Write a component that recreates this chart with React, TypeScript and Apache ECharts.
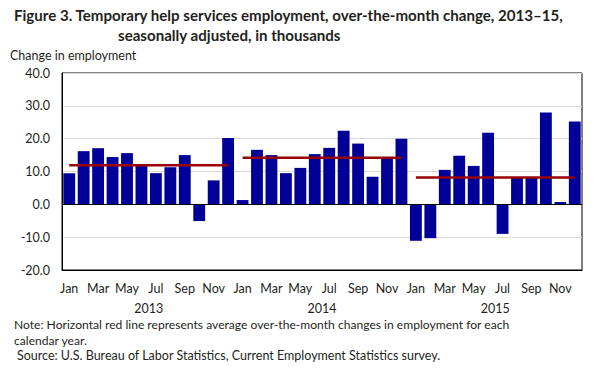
import React, { useEffect, useRef } from "react";
import * as echarts from "echarts";

const years = ["2013", "2014", "2015"];
const monthNames = ["Jan", "Feb", "Mar", "Apr", "May", "Jun", "Jul", "Aug", "Sep", "Oct", "Nov", "Dec"];
const values2013 = [9.5, 16.2, 17.1, 14.4, 15.6, 11.9, 9.5, 11.3, 15.0, -5.1, 7.3, 20.2];
const values2014 = [1.3, 16.6, 15.0, 9.5, 11.1, 15.3, 17.2, 22.4, 18.5, 8.4, 14.2, 20.0];
const values2015 = [-11.1, -10.3, 10.5, 14.8, 11.7, 21.8, -9.0, 8.1, 8.0, 28.0, 0.7, 25.2];
const yearAverages = [11.9, 14.2, 8.2];
const yTicks = { min: -20, max: 40, interval: 10 };

const FONT = "Lato";
const TEXT = "#231f20";

export default function App() {
  const ref = useRef<HTMLDivElement>(null);
  useEffect(() => {
    if (!ref.current) return;
    const chart = echarts.init(ref.current, null, { renderer: "svg" });
    const categories = years.flatMap(() => monthNames);
    const values = [...values2013, ...values2014, ...values2015];
    const avgSeries = years.map((y, yi) => ({
      name: "avg" + y,
      type: "line",
      data: categories.map((_, i) => (Math.floor(i / 12) === yi ? yearAverages[yi] : null)),
      symbol: "none",
      showSymbol: false,
      lineStyle: { color: "#990000", width: 2.5 },
      z: 5,
      silent: true,
    }));
    chart.setOption({
      animation: false,
      textStyle: { fontFamily: FONT },
      grid: {
        left: 62,
        right: 22,
        top: 73,
        height: 197,
        show: true,
        borderColor: "#000",
        borderWidth: 1,
        backgroundColor: "transparent",
      },
      xAxis: [
        {
          type: "category",
          data: categories,
          position: "bottom",
          axisLine: { onZero: false, lineStyle: { color: "#000" } },
          axisTick: { show: false },
          axisLabel: { interval: 1, color: TEXT, fontSize: 12.5, fontFamily: FONT, margin: 12 },
        },
        {
          type: "category",
          data: years,
          position: "bottom",
          offset: 20,
          axisLine: { show: false },
          axisTick: { show: false },
          axisLabel: { color: TEXT, fontSize: 12.5, fontFamily: FONT, margin: 12 },
        },
      ],
      yAxis: {
        type: "value",
        min: yTicks.min,
        max: yTicks.max,
        interval: yTicks.interval,
        axisLine: { show: true, lineStyle: { color: "#000" } },
        axisTick: { show: false },
        splitLine: { lineStyle: { color: "#d9d9d9", width: 1 } },
        axisLabel: {
          color: TEXT,
          fontSize: 12.5,
          fontFamily: FONT,
          margin: 12,
          formatter: (v: number) => v.toFixed(1),
        },
      },
      series: [
        {
          type: "bar",
          data: values,
          barCategoryGap: "18%",
          itemStyle: { color: "#000099" },
          z: 2,
          markLine: {
            silent: true,
            symbol: "none",
            label: { show: false },
            lineStyle: { color: "#000", width: 1, type: "solid" },
            data: [{ yAxis: 0 }],
          },
        },
        ...avgSeries,
      ],
      graphic: [
        {
          type: "text",
          left: 14,
          top: 7,
          style: {
            text: "Figure 3. Temporary help services employment, over-the-month change, 2013–15,",
            font: `bold 15.1px ${FONT}`,
            fill: TEXT,
          },
        },
        {
          type: "text",
          left: 118,
          top: 27,
          style: { text: "seasonally adjusted, in thousands", font: `bold 15.1px ${FONT}`, fill: TEXT },
        },
        {
          type: "text",
          left: 10,
          top: 49,
          style: { text: "Change in employment", font: `12.5px ${FONT}`, fill: TEXT },
        },
        {
          type: "text",
          left: 14,
          top: 318,
          style: {
            text: "Note: Horizontal red line represents average over-the-month changes in employment for each",
            font: `12.1px ${FONT}`,
            fill: TEXT,
          },
        },
        {
          type: "text",
          left: 14,
          top: 334,
          style: { text: "calendar year.", font: `12.1px ${FONT}`, fill: TEXT },
        },
        {
          type: "text",
          left: 17,
          top: 349,
          style: {
            text: "Source: U.S. Bureau of Labor Statistics, Current Employment Statistics survey.",
            font: `12.5px ${FONT}`,
            fill: TEXT,
          },
        },
      ],
    });
    return () => chart.dispose();
  }, []);
  return (
    <div
      ref={ref}
      style={{ position: "fixed", left: 0, top: 0, width: 604, height: 373, background: "#fff" }}
    />
  );
}
